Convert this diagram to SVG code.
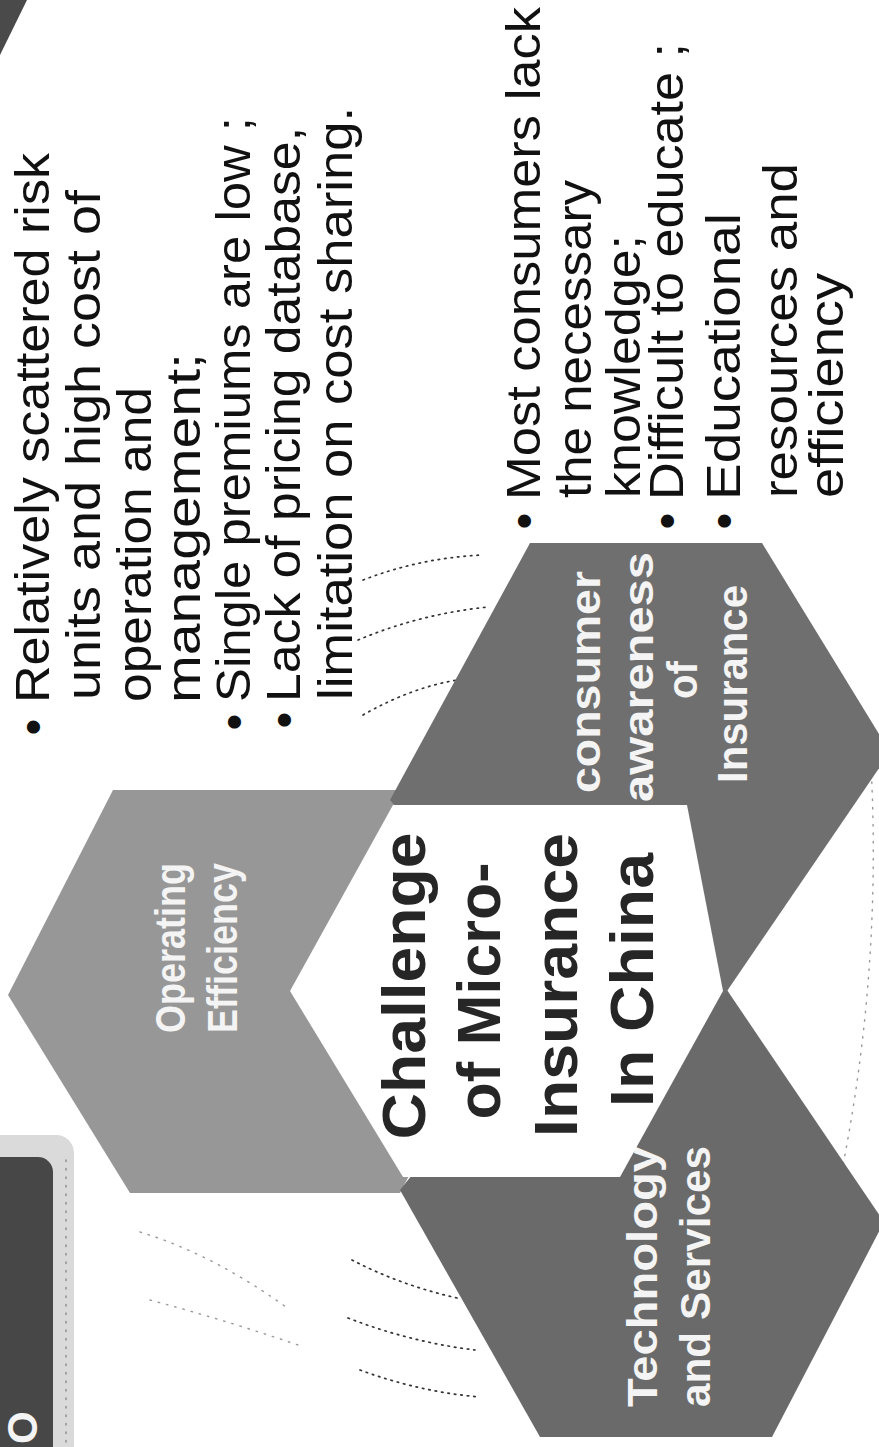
<svg xmlns="http://www.w3.org/2000/svg" width="879" height="1447" viewBox="0 0 879 1447">
<style>
.body{font-family:"Liberation Sans",Arial,sans-serif;font-size:48px;fill:#111}
.lbl{font-family:"Liberation Sans",Arial,sans-serif;font-weight:bold;font-size:42px;fill:#f4f4f4}
.ctr{font-family:"Liberation Sans",Arial,sans-serif;font-weight:bold;font-size:62px;fill:#262626}
.dot{fill:none;stroke:#333;stroke-width:1.7;stroke-dasharray:1.5 5;stroke-linecap:round}
.faint{fill:none;stroke:#555;stroke-width:1.4;stroke-dasharray:1.5 7;stroke-linecap:round;opacity:0.6}
</style>
<rect width="879" height="1447" fill="#ffffff"/>

<g id="corner-shape">
<polygon points="0,0 27,0 0,55" fill="#4a4a4a"/>
</g>

<g id="title-bar">
<rect x="-20" y="1135" width="94" height="340" rx="18" fill="#dadada"/>
<rect x="-20" y="1157" width="73" height="320" rx="15" fill="#474747"/>
<line x1="66" y1="1160" x2="66" y2="1447" class="faint"/>
<text class="lbl" font-size="50" transform="translate(37,1444) rotate(-90)">O</text>
</g>

<g id="connectors">
<path class="dot" d="M363,580 Q420,558 482,555"/>
<path class="dot" d="M358,640 Q420,614 488,607"/>
<path class="dot" d="M363,715 Q410,688 457,680"/>
<path class="dot" d="M352,1260 Q400,1285 457,1298"/>
<path class="dot" d="M348,1318 Q410,1342 475,1350"/>
<path class="dot" d="M360,1370 Q420,1392 480,1397"/>
<path class="faint" d="M140,1232 Q215,1255 290,1310"/>
<path class="faint" d="M150,1300 Q225,1320 298,1345"/>
<path class="faint" d="M871,765 Q882,975 840,1180"/>
</g>

<g id="node-operating">
<polygon points="113,790 400,790 505,991 400,1193 130,1193 8,995" fill="#979797"/>
<text class="lbl" text-anchor="middle" textLength="170" lengthAdjust="spacingAndGlyphs" transform="translate(185,948) rotate(-90)">Operating</text>
<text class="lbl" text-anchor="middle" textLength="170" lengthAdjust="spacingAndGlyphs" transform="translate(237,948) rotate(-90)">Efficiency</text>
</g>

<g id="node-technology">
<polygon points="727,990 884,1222 772,1437 540,1437 400,1190 560,990" fill="#6a6a6a"/>
<text class="lbl" textLength="261" lengthAdjust="spacingAndGlyphs" transform="translate(657,1407) rotate(-90)">Technology</text>
<text class="lbl" textLength="261" lengthAdjust="spacingAndGlyphs" transform="translate(710,1407) rotate(-90)">and Services</text>
</g>

<g id="node-consumer">
<polygon points="530,543 762,543 890,752 725,994 560,994 390,800" fill="#6f6f6f"/>
<text class="lbl" font-size="44" text-anchor="middle" textLength="222" lengthAdjust="spacingAndGlyphs" transform="translate(600,682) rotate(-90)">consumer</text>
<text class="lbl" font-size="44" text-anchor="middle" textLength="250" lengthAdjust="spacingAndGlyphs" transform="translate(653,677) rotate(-90)">awareness</text>
<text class="lbl" font-size="44" text-anchor="middle" textLength="38" lengthAdjust="spacingAndGlyphs" transform="translate(697,680) rotate(-90)">of</text>
<text class="lbl" font-size="44" text-anchor="middle" textLength="198" lengthAdjust="spacingAndGlyphs" transform="translate(747,684) rotate(-90)">Insurance</text>
</g>

<g id="node-center">
<polygon points="393,805 687,805 723,991 620,1177 403,1177 290,991" fill="#ffffff"/>
<text class="ctr" text-anchor="middle" textLength="307" lengthAdjust="spacingAndGlyphs" transform="translate(425,986) rotate(-90)">Challenge</text>
<text class="ctr" text-anchor="middle" textLength="257" lengthAdjust="spacingAndGlyphs" transform="translate(500,991) rotate(-90)">of Micro-</text>
<text class="ctr" text-anchor="middle" textLength="304" lengthAdjust="spacingAndGlyphs" transform="translate(577,985) rotate(-90)">Insurance</text>
<text class="ctr" text-anchor="middle" textLength="254" lengthAdjust="spacingAndGlyphs" transform="translate(653,980) rotate(-90)">In China</text>
</g>

<g id="notes-operating">
<text class="body" text-anchor="middle" transform="translate(49,727) rotate(-90)">•</text>
<text class="body" textLength="550" lengthAdjust="spacingAndGlyphs" transform="translate(49,703) rotate(-90)">Relatively scattered risk</text>
<text class="body" textLength="510" lengthAdjust="spacingAndGlyphs" transform="translate(100,700) rotate(-90)">units and high cost of</text>
<text class="body" textLength="315" lengthAdjust="spacingAndGlyphs" transform="translate(151,702) rotate(-90)">operation and</text>
<text class="body" textLength="350" lengthAdjust="spacingAndGlyphs" transform="translate(200,703) rotate(-90)">management;</text>
<text class="body" text-anchor="middle" transform="translate(250,722) rotate(-90)">•</text>
<text class="body" textLength="585" lengthAdjust="spacingAndGlyphs" transform="translate(250,702) rotate(-90)">Single premiums are low ;</text>
<text class="body" text-anchor="middle" transform="translate(300,720) rotate(-90)">•</text>
<text class="body" textLength="575" lengthAdjust="spacingAndGlyphs" transform="translate(300,702) rotate(-90)">Lack of pricing database,</text>
<text class="body" textLength="593" lengthAdjust="spacingAndGlyphs" transform="translate(352,700) rotate(-90)">limitation on cost sharing.</text>
</g>

<g id="notes-consumer">
<text class="body" text-anchor="middle" transform="translate(540,521) rotate(-90)">•</text>
<text class="body" textLength="493" lengthAdjust="spacingAndGlyphs" transform="translate(540,500) rotate(-90)">Most consumers lack</text>
<text class="body" textLength="318" lengthAdjust="spacingAndGlyphs" transform="translate(591,498) rotate(-90)">the necessary</text>
<text class="body" textLength="263" lengthAdjust="spacingAndGlyphs" transform="translate(640,498) rotate(-90)">knowledge;</text>
<text class="body" text-anchor="middle" transform="translate(683,521) rotate(-90)">•</text>
<text class="body" textLength="457" lengthAdjust="spacingAndGlyphs" transform="translate(683,500) rotate(-90)">Difficult to educate ;</text>
<text class="body" text-anchor="middle" transform="translate(740,521) rotate(-90)">•</text>
<text class="body" textLength="287" lengthAdjust="spacingAndGlyphs" transform="translate(740,500) rotate(-90)">Educational</text>
<text class="body" textLength="335" lengthAdjust="spacingAndGlyphs" transform="translate(797,498) rotate(-90)">resources and</text>
<text class="body" textLength="225" lengthAdjust="spacingAndGlyphs" transform="translate(843,498) rotate(-90)">efficiency</text>
</g>
</svg>
